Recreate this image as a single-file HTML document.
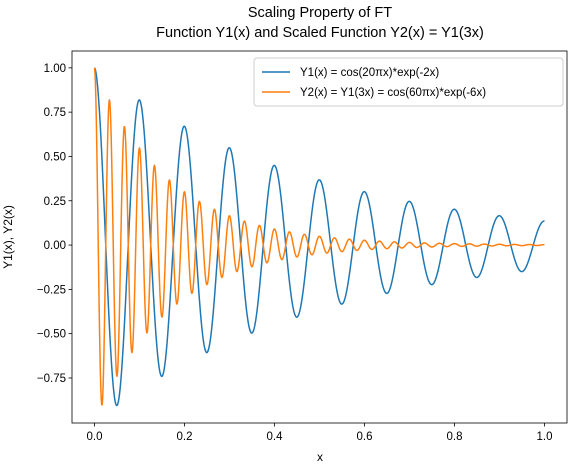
<!DOCTYPE html>
<html><head><meta charset="utf-8"><style>
body{margin:0;background:#fff;}
svg{display:block;font-family:"Liberation Sans","DejaVu Sans",sans-serif;}
</style></head><body>
<svg id="chart" width="587" height="466" viewBox="0 0 587 466">
<rect width="587" height="466" fill="#fff"/>
<text x="320" y="17" font-size="14.5" text-anchor="middle">Scaling Property of FT</text>
<text x="320" y="37" font-size="14.5" text-anchor="middle">Function Y1(x) and Scaled Function Y2(x) = Y1(3x)</text>
<g id="plot"></g>
<text x="320" y="461" font-size="12" text-anchor="middle">x</text>
<text x="0" y="0" font-size="12" text-anchor="middle" transform="translate(12,237) rotate(-90)">Y1(x), Y2(x)</text>
</svg>
<script>
// series parameters (curves are defined by the functions in the legend)
const seriesNames = ["Y1(x) = cos(20πx)*exp(-2x)", "Y2(x) = Y1(3x) = cos(60πx)*exp(-6x)"];
const seriesFreq = [20, 60];
const seriesDecay = [2, 6];
const seriesColors = ["#1f77b4", "#ff7f0e"];
const sampleCount = 1000;
const xTicks = [0, 0.2, 0.4, 0.6, 0.8, 1.0];
const xTickLabels = ["0.0", "0.2", "0.4", "0.6", "0.8", "1.0"];
const yTicks = [-0.75, -0.5, -0.25, 0, 0.25, 0.5, 0.75, 1.0];
const yTickLabels = ["−0.75", "−0.50", "−0.25", "0.00", "0.25", "0.50", "0.75", "1.00"];

const NS = "http://www.w3.org/2000/svg";
const L = 72, R = 567, T = 51, B = 423;
const xMin = -0.05, xMax = 1.05, yMin = -1.004, yMax = 1.095;
const sx = v => L + (v - xMin) / (xMax - xMin) * (R - L);
const sy = v => B - (v - yMin) / (yMax - yMin) * (B - T);
const g = document.getElementById('plot');
function mk(tag, attrs, parent) {
  const e = document.createElementNS(NS, tag);
  for (const k in attrs) e.setAttribute(k, attrs[k]);
  (parent || g).appendChild(e);
  return e;
}
seriesFreq.forEach((f, i) => {
  let d = "";
  for (let k = 0; k < sampleCount; k++) {
    const x = k / (sampleCount - 1);
    const y = Math.cos(f * Math.PI * x) * Math.exp(-seriesDecay[i] * x);
    d += (k ? "L" : "M") + sx(x).toFixed(2) + "," + sy(y).toFixed(2);
  }
  const p = mk('path', {d: d, fill: 'none', stroke: seriesColors[i], 'stroke-width': 1.5, 'stroke-linejoin': 'round'});
  
  
});
const fr = mk('rect', {x: L, y: T, width: R - L, height: B - T, fill: 'none', stroke: '#000', 'stroke-width': 0.8});


xTicks.forEach((v, i) => {
  const t = mk('line', {x1: sx(v), x2: sx(v), y1: B, y2: B + 3.5, stroke: '#000', 'stroke-width': 0.8});
  
  
  const tx = mk('text', {x: sx(v), y: B + 17, 'font-size': 11.5, 'text-anchor': 'middle'});
  tx.textContent = xTickLabels[i];
  
  
});
yTicks.forEach((v, i) => {
  const t = mk('line', {x1: L - 3.5, x2: L, y1: sy(v), y2: sy(v), stroke: '#000', 'stroke-width': 0.8});
  
  
  const tx = mk('text', {x: L - 6, y: sy(v) + 4, 'font-size': 11.5, 'text-anchor': 'end'});
  tx.textContent = yTickLabels[i];
  
  
});
const lg = mk('g', {});


mk('rect', {x: 254, y: 58, width: 309, height: 48, rx: 3, fill: '#fff', 'fill-opacity': 0.8, stroke: '#ccc', 'stroke-width': 1}, lg);
seriesNames.forEach((n, i) => {
  const y = 72 + i * 20;
  const ln = mk('line', {x1: 262, x2: 290, y1: y, y2: y, stroke: seriesColors[i], 'stroke-width': 1.5}, lg);
  
  
  const tx = mk('text', {x: 300, y: y + 4, 'font-size': 11.5}, lg);
  tx.textContent = n;
  
  
});
</script>
</body></html>
